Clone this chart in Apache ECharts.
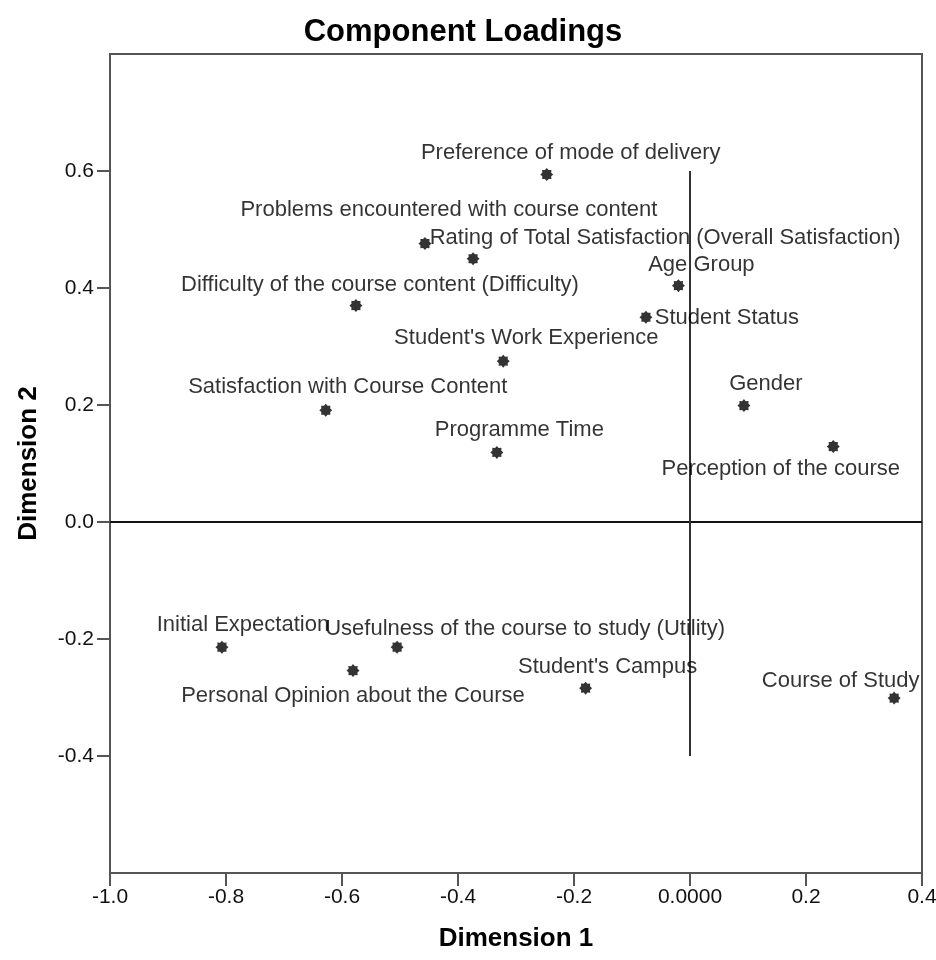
<!DOCTYPE html>
<html>
<head>
<meta charset="utf-8">
<script src="https://cdn.jsdelivr.net/npm/echarts@6/dist/echarts.min.js"></script>
<style>
html,body{margin:0;padding:0;background:#fff;}
#chart{width:936px;height:960px;}
</style>
</head>
<body>
<div id="chart"></div>
<script>
// ---- data ----
const categories = [
  'Preference of mode of delivery',
  'Problems encountered with course content',
  'Rating of Total Satisfaction (Overall Satisfaction)',
  'Difficulty of the course content (Difficulty)',
  'Age Group',
  'Student Status',
  "Student's Work Experience",
  'Satisfaction with Course Content',
  'Programme Time',
  'Gender',
  'Perception of the course',
  'Initial Expectation',
  'Usefulness of the course to study (Utility)',
  'Personal Opinion about the Course',
  "Student's Campus",
  'Course of Study'
];
const dimension1 = [-0.247, -0.457, -0.374, -0.576, -0.020, -0.076, -0.322, -0.628, -0.333, 0.093, 0.247, -0.807, -0.505, -0.581, -0.180, 0.352];
const dimension2 = [0.594, 0.476, 0.450, 0.370, 0.404, 0.350, 0.275, 0.191, 0.119, 0.199, 0.129, -0.214, -0.214, -0.254, -0.284, -0.301];
const xTicks = [-1.0, -0.8, -0.6, -0.4, -0.2, 0.0, 0.2, 0.4];
const yTicks = [-0.4, -0.2, 0.0, 0.2, 0.4, 0.6];
const horizontalRef = [[-1.0, 0], [0.4, 0]];
const verticalRef = [[0, 0.6], [0, -0.4]];

// ---- styling (label placement in pixels, relative to the point) ----
const labelOffsets = [[24,-22],[24,-34],[192,-20.5],[24,-20.5],[23,-20.5],[81,1],[23,-23],[22,-23],[22.5,-22.5],[22,-22],[-52.5,22],[21,-22],[128,-18.5],[0,25],[22,-21],[-53.5,-17]];
const SYMBOL_SIZE = 13;

function gearPath(){
  const pts = [];
  for (let i = 0; i < 16; i++) {
    const r = (i % 2) ? 0.74 : 1;
    const a = i * Math.PI / 8 - Math.PI / 2;
    pts.push([50 + 50 * r * Math.cos(a), 50 + 50 * r * Math.sin(a)]);
  }
  return 'path://M' + pts.map(p => p[0].toFixed(2) + ',' + p[1].toFixed(2)).join('L') + 'Z';
}

const FONT = '"Liberation Sans", Arial, Helvetica, sans-serif';
const points = categories.map((c, i) => ({
  name: c,
  value: [dimension1[i], dimension2[i]],
  label: {
    position: [SYMBOL_SIZE / 2 + labelOffsets[i][0], SYMBOL_SIZE / 2 + labelOffsets[i][1]],
    align: 'center', verticalAlign: 'middle'
  }
}));

const chart = echarts.init(document.getElementById('chart'), null, {renderer: 'canvas'});
chart.setOption({
  backgroundColor: '#ffffff',
  animation: false,
  title: {
    text: 'Component Loadings',
    left: 458, top: 12, textAlign: 'center',
    textStyle: {fontFamily: FONT, fontWeight: 'bold', fontSize: 31, color: '#000'}
  },
  grid: {
    left: 110, right: 14, top: 54, bottom: 87,
    outerBoundsMode: 'none', containLabel: false,
    show: true, borderColor: '#555', borderWidth: 2, backgroundColor: 'transparent'
  },
  xAxis: {
    type: 'value', min: -1.0, max: 0.4, interval: 0.2,
    name: 'Dimension 1', nameLocation: 'middle', nameGap: 53,
    nameTextStyle: {fontFamily: FONT, fontWeight: 'bold', fontSize: 26, color: '#000'},
    axisLine: {show: true, onZero: false, lineStyle: {color: '#555', width: 2}},
    axisTick: {show: true, length: 13, lineStyle: {color: '#555', width: 2}},
    axisLabel: {
      margin: 14, fontFamily: FONT, fontSize: 21, color: '#111',
      hideOverlap: false, showMinLabel: true, showMaxLabel: true,
      formatter: v => Math.abs(v) < 1e-9 ? '0.0000' : v.toFixed(1)
    },
    splitLine: {show: false}
  },
  yAxis: {
    type: 'value', min: -0.6, max: 0.8, interval: 0.2,
    name: 'Dimension 2', nameLocation: 'middle', nameGap: 68, nameRotate: 90,
    nameTextStyle: {fontFamily: FONT, fontWeight: 'bold', fontSize: 26, color: '#000'},
    axisLine: {show: true, onZero: false, lineStyle: {color: '#555', width: 2}},
    axisTick: {show: true, length: 13, customValues: yTicks, lineStyle: {color: '#555', width: 2}},
    axisLabel: {
      margin: 16, fontFamily: FONT, fontSize: 21, color: '#111', customValues: yTicks,
      formatter: v => Math.abs(v) < 1e-9 ? '0.0' : v.toFixed(1)
    },
    splitLine: {show: false}
  },
  series: [
    {
      type: 'line', data: horizontalRef, symbol: 'none', silent: true,
      lineStyle: {color: '#111', width: 2}, z: 1
    },
    {
      type: 'line', data: verticalRef, symbol: 'none', silent: true,
      lineStyle: {color: '#333', width: 2}, z: 1
    },
    {
      type: 'scatter', data: points,
      symbol: gearPath(), symbolSize: SYMBOL_SIZE,
      itemStyle: {color: '#000'},
      label: {
        show: true,
        formatter: p => p.name,
        fontFamily: FONT, fontSize: 22, color: '#000'
      },
      labelLayout: {hideOverlap: false},
      z: 3
    }
  ]
});
</script>
</body>
</html>
